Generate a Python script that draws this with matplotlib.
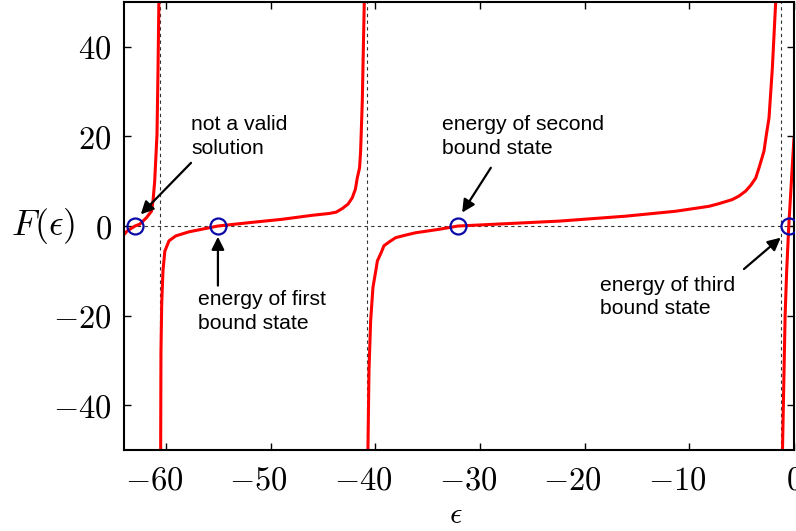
import matplotlib
matplotlib.use('Agg')
import matplotlib.pyplot as plt
from matplotlib.transforms import ScaledTranslation

plt.rcParams['mathtext.fontset'] = 'cm'
plt.rcParams['font.family'] = ['Liberation Sans', 'DejaVu Sans']

# F(eps) sampled along each branch between the poles
b1_x = [-64.0, -63.7, -62.95, -62.5, -61.86, -61.38, -61.23, -61.07, -60.85, -60.75, -60.67]
b1_y = [-1.9, -1.1, 0.0, 0.4, 1.85, 3.3, 5.6, 10.0, 20.4, 35.2, 50.0]

b2_x = [-60.5, -60.47, -60.4, -60.28, -60.1, -59.7, -59.05, -57.8, -55.03, -52.05,
        -48.9, -46.0, -44.4, -43.73, -43.15, -42.6, -42.2, -41.9, -41.72, -41.5,
        -41.4, -41.24, -41.05]
b2_y = [-50.0, -28.0, -17.4, -10.0, -5.6, -3.3, -2.2, -1.3, 0.0, 0.75,
        1.5, 2.4, 2.8, 3.1, 3.9, 4.9, 6.3, 8.2, 10.7, 13.0,
        16.7, 27.8, 50.0]

b3_x = [-40.7, -40.6, -40.44, -40.22, -39.9, -39.8, -39.43, -39.17, -38.64, -38.05,
        -37.05, -36.14, -33.92, -32.09, -22.4, -16.07, -11.3, -8.12, -7.16, -5.9,
        -5.25, -4.62, -4.13, -3.66, -3.34, -2.87, -2.64, -2.39, -2.07, -1.75]
b3_y = [-50.0, -32.2, -21.1, -13.7, -9.3, -7.8, -5.9, -4.4, -3.5, -2.6,
        -2.0, -1.5, -0.74, 0.0, 1.1, 2.2, 3.3, 4.4, 5.0, 5.9,
        6.7, 7.8, 9.1, 10.7, 13.0, 16.7, 20.4, 24.1, 35.2, 50.0]

b4_x = [-1.1, -0.95, -0.85, -0.7, -0.5, -0.25, 0.0]
b4_y = [-50.0, -32.0, -20.0, -10.0, 0.0, 10.0, 19.8]

poles = [-60.52, -40.77, -1.27]
roots = [-62.95, -55.03, -32.09, -0.5]

xticks = [-60, -50, -40, -30, -20, -10, 0]
yticks = [-40, -20, 0, 20, 40]

notes = ['not a valid\nsolution', 'energy of first\nbound state',
         'energy of second\nbound state', 'energy of third\nbound state']
note_text_xy = [(-57.6, 20.0), (-56.95, -19.1), (-33.6, 20.0), (-18.5, -15.8)]
note_tail_xy = [(-57.6, 14.1), (-55.03, -13.3), (-28.96, 13.0), (-4.78, -9.6)]
note_head_xy = [(-62.4, 2.6), (-55.03, -2.4), (-31.7, 3.0), (-1.27, -2.6)]

fig = plt.figure(figsize=(7.96, 5.31), dpi=100)
ax = fig.add_axes([0.1558, 0.1525, 0.8417, 0.8437])

ax.axhline(0, color='#333333', lw=0.8, ls=(0, (3, 3)), zorder=1)
for p in poles:
    ax.axvline(p, color='#333333', lw=0.8, ls=(0, (3, 3)), zorder=1)

for bx, by in [(b1_x, b1_y), (b2_x, b2_y), (b3_x, b3_y), (b4_x, b4_y)]:
    ax.plot(bx, by, color='red', lw=2.2, zorder=2, solid_capstyle='butt')

ax.plot(roots, [0] * len(roots), 'o', ms=11.5, mfc='none', mec='#0a0aa8', mew=1.6,
        zorder=3)

for txt, txy, tail, head in zip(notes, note_text_xy, note_tail_xy, note_head_xy):
    ax.text(txy[0], txy[1], txt, fontsize=15.2, ha='left', va='center', linespacing=1.3)
    ax.annotate('', xy=head, xytext=tail,
                arrowprops=dict(arrowstyle='-|>', color='k', lw=1.6,
                                mutation_scale=19, shrinkA=0, shrinkB=0))

ax.set_xlim(-64, 0)
ax.set_ylim(-50, 50)
ax.set_xticks(xticks)
ax.set_xticklabels([f'${v}$' for v in xticks])
ax.set_yticks(yticks)
ax.set_yticklabels([f'${v}$' for v in yticks])
ax.tick_params(direction='in', length=5, width=1, labelsize=23.5, top=True, right=True)
ax.tick_params(axis='y', pad=9)
ax.tick_params(axis='x', pad=11)
for s in ax.spines.values():
    s.set_linewidth(1.5)

# centre the digits on the tick and let the minus sign hang to the left
shift = ScaledTranslation(-12 / 100, 0, fig.dpi_scale_trans)
for v, lab in zip(xticks, ax.get_xticklabels()):
    if v < 0:
        lab.set_transform(lab.get_transform() + shift)

ax.set_xlabel(r'$\epsilon$', fontsize=22, va='center')
ax.xaxis.set_label_coords(0.495, -0.145)
ax.set_ylabel(r'$F(\epsilon)$', fontsize=26, rotation=0, ha='center', va='center')
ax.yaxis.set_label_coords(-0.12, 0.5)

fig.savefig('out.png', dpi=100)
